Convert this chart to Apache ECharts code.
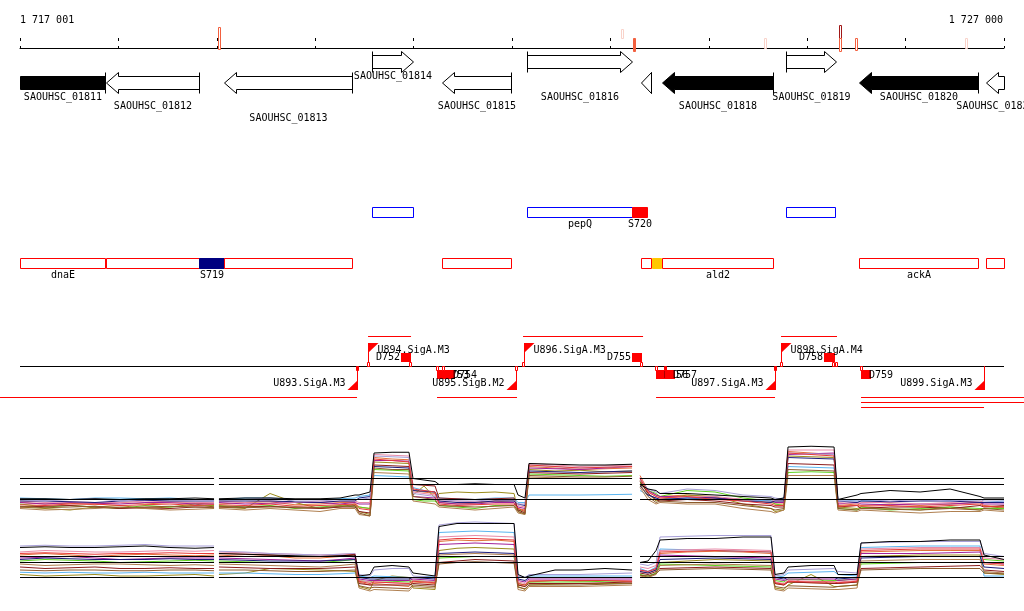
<!DOCTYPE html>
<html><head><meta charset="utf-8">
<script src="https://cdn.jsdelivr.net/npm/echarts@6/dist/echarts.min.js"></script>
<style>html,body{margin:0;padding:0;background:#fff;overflow:hidden}#c{width:1024px;height:611px}</style>
</head><body><div id="c"></div><script>
// ================= DATA =================
const viewStart = 1717000, viewEnd = 1727000, tickStep = 1000;
const rulerLabels = ['1 717 001', '1 727 000'];

// ruler markers (value bars on the coordinate line)
const mkPos   = [1719027, 1723118, 1723240, 1724571, 1725334, 1725334, 1725491, 1726614];
const mkUp    = [11, 9, 0, 0, 13, 0, 0, 0];
const mkDown  = [11, 0, 13, 10, 0, 13, 12, 10];
const mkLevel = [2, 1, 2, 1, 3, 2, 2, 1];
const mkSolid = [0, 0, 1, 0, 0, 0, 0, 0];

// genes
const geneNames = ['SAOUHSC_01811','SAOUHSC_01812','SAOUHSC_01813','SAOUHSC_01814','SAOUHSC_01815','SAOUHSC_01816','SAOUHSC_01817','SAOUHSC_01818','SAOUHSC_01819','SAOUHSC_01820','SAOUHSC_01821'];
const geneStart = [1716300, 1717874, 1719073, 1720577, 1721289, 1722153, 1723311, 1723525, 1724785, 1725527, 1726817];
const geneEnd   = [1717864, 1718819, 1720374, 1720994, 1721990, 1723220, 1723413, 1724653, 1725293, 1726736, 1727500];
const geneStrand = [-1, -1, -1, 1, -1, 1, -1, -1, 1, -1, -1];
const geneEssential = [1, 0, 0, 0, 0, 0, 0, 1, 0, 1, 0];

// annotated features (two lanes)
const featNames = ['', 'pepQ', 'S720', '', 'dnaE', '', 'S719', '', '', '', '', 'ald2', 'ackA', ''];
const featStart = [1720577, 1722153, 1723220, 1724785, 1716300, 1717874, 1718819, 1719073, 1721289, 1723311, 1723423, 1723525, 1725527, 1726817];
const featEnd   = [1720994, 1723220, 1723372, 1725283, 1717864, 1718819, 1719073, 1720374, 1721990, 1723413, 1723514, 1724653, 1726736, 1727500];
const featLane  = [0, 0, 0, 0, 1, 1, 1, 1, 1, 1, 1, 1, 1, 1];
const featKind  = [0, 0, 1, 0, 0, 0, 2, 0, 0, 0, 3, 0, 0, 0];

// transcription units
const opStart = [1720537, 1722112, 1724734, 1716797, 1721238, 1723464, 1725547, 1725547, 1725547];
const opEnd   = [1720974, 1723332, 1725303, 1720425, 1722051, 1724673, 1727240, 1727240, 1726797];
const opLane  = [0, 0, 0, 1, 1, 1, 1, 2, 3];

// promoters
const promNames  = ['U893.SigA.M3','U894.SigA.M3','U895.SigB.M2','U896.SigA.M3','U897.SigA.M3','U898.SigA.M4','U899.SigA.M3'];
const promPos    = [1720425, 1720537, 1722041, 1722122, 1724673, 1724734, 1726797];
const promStrand = [-1, 1, -1, 1, -1, 1, -1];

// terminators
const termNames  = ['D752','D753','D754','D755','D756','D757','D758','D759'];
const termStart  = [1720872, 1721238, 1721319, 1723220, 1723464, 1723555, 1725171, 1725547];
const termEnd    = [1720974, 1721339, 1721421, 1723321, 1723565, 1723657, 1725283, 1725649];
const termStrand = [1, -1, -1, 1, -1, -1, 1, -1];

// small site marks on the track line
const sitePos    = [1720425, 1720537, 1720964, 1721235, 1721299, 1722041, 1722112, 1723311, 1723464, 1723555, 1724673, 1724734, 1725263, 1725293, 1725547];
const siteStrand = [-1, 1, 1, -1, -1, -1, 1, 1, -1, -1, -1, 1, 1, 1, -1];
const siteSolid  = [1, 0, 0, 0, 0, 0, 0, 0, 0, 1, 1, 0, 0, 0, 0];

// expression profiles: sample positions (null rows = gaps) and values
const exprX = [1717000,1717254,1717508,1717762,1718016,1718270,1718524,1718779,1718972,1718992,
  1719022,1719287,1719541,1719795,1720049,1720252,1720405,1720445,1720557,1720598,1720781,1720953,
  1720994,1721106,1721218,1721258,1721441,1721624,1721827,1722021,1722061,1722132,1722173,1722437,
  1722691,1722945,1723220,1723260,1723301,1723382,1723464,1723504,1723779,1724063,1724348,1724632,
  1724673,1724764,1724805,1725039,1725273,1725313,1725507,1725547,1725842,1726147,1726452,1726756,
  1726797,1727000];
const exprSegments = [[1717000, 1718972], [1719022, 1723220], [1723301, 1727000]];
const thresholdLevels = [1.4, 1.0, 0.0];

// panel A (upper)
const expAref = [0.05,0.05,0.0,0.05,0.0,0.05,0.05,0.1,0.05,null,0.05,0.1,0.1,0.05,0.05,0.1,0.3,0.3,0.5,3.1,3.15,3.15,1.4,1.3,1.2,1.0,1.0,1.05,1.0,1.0,0.3,0.1,2.4,2.35,2.3,2.3,2.35,null,1.0,0.7,0.6,0.4,0.4,0.3,0.2,0.1,0.0,0.1,3.5,3.55,3.5,0.0,0.3,0.4,0.6,0.5,0.7,0.2,0.1,0.1];
const expA1 = [-0.2,-0.3,-0.25,-0.35,-0.2,-0.3,-0.2,-0.25,-0.3,null,-0.3,-0.2,-0.15,-0.35,-0.3,-0.2,-0.2,-0.5,-0.6,2.8,2.7,2.65,0.6,0.5,0.4,-0.2,-0.3,-0.25,-0.1,-0.2,-0.6,-0.7,2.2,2.1,2.0,2.05,2.1,null,1.6,0.6,0.3,0.2,0.3,0.1,0.0,-0.2,-0.3,-0.3,3.2,3.1,3.0,-0.4,-0.3,-0.4,-0.3,-0.4,-0.3,-0.2,-0.4,-0.5];
const expA2 = [-0.5,-0.6,-0.7,-0.5,-0.4,-0.6,-0.5,-0.3,-0.5,null,-0.5,-0.6,0.4,-0.2,-0.6,-0.5,-0.3,-0.8,-1.0,2.5,2.45,2.4,0.3,0.9,0.1,0.4,0.5,0.45,0.5,0.4,-0.8,-1.0,2.0,1.9,1.95,1.85,1.9,null,1.3,0.4,-0.1,0.0,0.3,0.2,-0.3,-0.6,-0.8,-0.7,2.9,2.85,2.8,-0.5,-0.6,-0.5,-0.6,-0.7,-0.5,-0.7,-0.6,-0.5];
const expA3 = [-0.3,-0.5,-0.4,-0.5,-0.6,-0.4,-0.5,-0.4,-0.4,null,-0.4,-0.5,-0.4,-0.6,-0.5,-0.4,-0.5,-0.5,-0.6,2.0,1.95,1.9,0.0,-0.1,-0.1,-0.4,-0.5,-0.6,-0.4,-0.4,-0.7,-0.8,1.7,1.65,1.6,1.55,1.6,null,1.1,0.6,0.4,0.2,0.6,0.5,0.1,-0.1,-0.3,-0.4,1.8,1.85,1.8,-0.6,-0.7,-0.5,-0.7,-0.6,-0.5,-0.6,-0.6,-0.6];
const expA4 = [-0.2,-0.3,-0.2,-0.25,-0.3,-0.2,-0.2,-0.3,-0.3,null,-0.2,-0.3,-0.25,-0.2,-0.2,-0.3,-0.2,-0.3,-0.3,2.6,2.6,2.55,0.2,0.15,0.1,-0.2,-0.3,-0.3,-0.2,-0.2,-0.5,-0.6,2.1,2.05,2.0,2.1,2.2,null,1.4,0.6,0.3,0.2,0.2,0.1,0.0,-0.1,-0.2,-0.2,3.0,3.05,3.1,-0.3,-0.2,-0.3,-0.35,-0.3,-0.3,-0.2,-0.3,-0.3];
const expA5 = [0.1,0.05,0.0,0.1,0.1,0.05,0.1,0.0,0.0,null,0.0,0.1,0.1,0.0,0.0,0.05,0.1,0.2,0.3,1.6,1.55,1.5,0.8,0.6,0.5,0.1,0.05,0.0,0.1,0.1,-0.2,-0.2,0.3,0.3,0.3,0.32,0.35,null,0.6,0.3,0.1,0.0,0.1,0.0,0.0,-0.1,0.0,0.1,2.2,2.15,2.1,0.0,-0.1,-0.1,0.0,0.0,-0.1,-0.1,-0.2,-0.1];
const expA6 = [-0.1,-0.2,-0.15,-0.2,-0.2,-0.1,-0.15,-0.2,-0.2,null,-0.1,-0.2,-0.1,-0.2,-0.1,-0.15,-0.1,-0.2,-0.2,3.0,2.95,2.9,0.5,0.4,0.3,-0.1,-0.1,-0.15,-0.1,-0.1,-0.4,-0.5,2.4,2.3,2.2,2.25,2.3,null,1.5,0.5,0.2,0.1,0.2,0.2,0.0,0.0,-0.1,-0.1,3.3,3.3,3.3,-0.2,-0.3,-0.2,-0.2,-0.3,-0.2,-0.1,-0.2,-0.2];
const expA7 = [-0.5,-0.45,-0.4,-0.5,-0.6,-0.55,-0.6,-0.5,-0.5,null,-0.5,-0.5,-0.45,-0.55,-0.6,-0.5,-0.5,-0.8,-0.9,2.3,2.25,2.2,1.0,0.95,0.9,0.1,0.05,0.0,0.05,0.1,-0.7,-0.9,1.8,1.75,1.7,1.75,1.8,null,1.2,0.4,0.0,-0.1,0.0,-0.1,-0.3,-0.4,-0.5,-0.5,2.4,2.35,2.3,-0.5,-0.4,-0.6,-0.5,-0.5,-0.6,-0.4,-0.5,-0.4];
const expA8 = [-0.1,-0.1,-0.15,-0.2,-0.1,-0.05,-0.1,-0.1,-0.1,null,-0.1,-0.1,-0.1,-0.15,-0.2,-0.1,-0.1,0.1,0.2,2.2,2.15,2.1,0.6,0.55,0.5,-0.1,-0.2,-0.2,-0.1,-0.1,-0.3,-0.4,1.9,1.85,1.8,1.85,1.9,null,0.9,0.3,0.1,0.0,0.1,0.1,-0.1,-0.2,-0.1,-0.1,2.8,2.75,2.7,-0.1,-0.2,-0.1,-0.15,-0.1,-0.1,-0.2,-0.2,-0.2];
const expA9 = [-0.6,-0.7,-0.65,-0.6,-0.5,-0.6,-0.7,-0.65,-0.6,null,-0.6,-0.7,-0.6,-0.7,-0.8,-0.6,-0.6,-1.0,-1.1,1.8,1.75,1.7,-0.1,-0.2,-0.3,-0.5,-0.6,-0.7,-0.6,-0.5,-0.9,-1.0,1.5,1.45,1.4,1.4,1.4,null,0.8,0.0,-0.3,-0.2,-0.3,-0.3,-0.6,-0.8,-0.9,-0.7,1.6,1.6,1.6,-0.7,-0.8,-0.7,-0.8,-0.9,-0.8,-0.8,-0.7,-0.8];
const expA10 = [0.0,-0.1,0.0,0.05,-0.1,0.0,0.0,-0.05,-0.1,null,0.0,0.0,0.1,-0.1,-0.1,0.0,0.0,0.0,0.1,2.9,2.85,2.8,0.4,0.3,0.2,0.0,-0.1,-0.1,0.0,0.0,-0.3,-0.3,2.3,2.2,2.1,2.15,2.2,null,1.3,0.7,0.5,0.4,0.7,0.6,0.3,0.2,0.1,0.0,3.1,3.05,3.0,-0.1,-0.1,0.0,-0.1,0.0,-0.1,0.0,-0.1,-0.1];
const expA11 = [-0.35,-0.4,-0.3,-0.3,-0.4,-0.35,-0.3,-0.4,-0.35,null,-0.35,-0.4,-0.3,-0.45,-0.4,-0.35,-0.3,-0.6,-0.7,2.7,2.6,2.5,0.7,0.6,0.5,-0.3,-0.4,-0.35,-0.3,-0.3,-0.6,-0.8,2.3,2.2,2.1,2.15,2.2,null,1.4,0.5,0.2,0.1,0.2,0.0,-0.1,-0.3,-0.4,-0.4,3.1,3.0,2.9,-0.45,-0.4,-0.45,-0.4,-0.5,-0.4,-0.3,-0.45,-0.5];
const expA12 = [-0.45,-0.55,-0.5,-0.45,-0.55,-0.5,-0.45,-0.5,-0.55,null,-0.45,-0.55,-0.5,-0.5,-0.55,-0.45,-0.4,-0.9,-1.1,2.1,2.0,2.0,0.2,0.1,0.0,-0.4,-0.45,-0.5,-0.45,-0.4,-0.8,-0.95,1.6,1.55,1.5,1.5,1.55,null,1.0,0.2,-0.2,-0.1,-0.2,-0.2,-0.4,-0.6,-0.7,-0.6,2.0,1.95,1.9,-0.6,-0.7,-0.6,-0.65,-0.7,-0.6,-0.7,-0.6,-0.7];

// panel B (lower)
const expBref = [2.0,2.05,2.0,2.0,2.05,2.1,2.0,1.95,2.0,null,1.6,1.55,1.5,1.45,1.4,1.45,1.5,0.1,0.2,0.7,0.8,0.7,0.3,0.2,0.1,3.4,3.6,3.6,3.6,3.6,0.2,0.0,0.1,0.5,0.5,0.6,0.5,null,1.0,1.1,1.8,2.5,2.6,2.6,2.7,2.7,0.2,0.3,0.7,0.8,0.8,0.2,0.2,2.3,2.4,2.4,2.5,2.5,1.5,1.2];
const expB1 = [1.5,1.6,1.5,1.4,1.5,1.55,1.5,1.45,1.5,null,1.5,1.4,1.45,1.3,1.3,1.4,1.5,-0.3,-0.5,-0.4,-0.5,-0.6,-0.3,-0.35,-0.4,2.4,2.5,2.45,2.5,2.4,-0.5,-0.6,-0.3,-0.2,-0.25,-0.2,-0.3,null,0.4,0.3,0.5,1.6,1.7,1.75,1.7,1.6,-0.4,-0.5,-0.3,-0.35,-0.4,-0.4,-0.3,1.7,1.75,1.8,1.8,1.8,0.9,0.8];
const expB2 = [0.2,0.1,0.15,0.2,0.1,0.1,0.15,0.2,0.1,null,0.2,0.3,0.6,0.55,0.5,0.45,0.4,-0.6,-0.8,-0.2,0.1,0.0,-0.7,-0.75,-0.8,1.8,1.95,2.0,1.95,1.9,-0.6,-0.8,-0.5,-0.45,-0.4,-0.4,-0.4,null,0.2,0.0,0.3,1.0,1.1,1.2,1.15,1.1,-0.7,-0.8,-0.5,0.2,-0.6,-0.6,-0.5,1.4,1.45,1.5,1.5,1.5,0.3,0.2];
const expB3 = [1.1,1.2,1.15,1.1,1.0,1.05,1.1,1.15,1.1,null,1.1,1.05,1.0,1.0,1.0,1.1,1.2,-0.2,-0.3,-0.2,-0.25,-0.3,-0.2,-0.25,-0.3,1.3,1.35,1.4,1.4,1.4,-0.4,-0.5,-0.3,-0.3,-0.3,-0.25,-0.2,null,0.2,0.1,0.3,0.9,0.85,0.8,0.75,0.7,-0.2,-0.3,-0.1,-0.15,-0.2,-0.2,-0.1,0.9,0.95,1.0,1.0,1.0,1.2,1.1];
const expB4 = [1.3,1.35,1.4,1.3,1.2,1.25,1.3,1.3,1.3,null,1.3,1.25,1.2,1.15,1.1,1.2,1.3,-0.1,-0.2,-0.2,-0.2,-0.2,-0.1,-0.15,-0.2,2.2,2.25,2.3,2.25,2.2,-0.2,-0.3,-0.1,-0.1,-0.1,-0.1,-0.1,null,0.5,0.4,0.6,1.5,1.45,1.4,1.35,1.3,-0.1,-0.2,-0.1,-0.1,-0.1,-0.2,-0.1,1.6,1.6,1.6,1.65,1.7,1.0,0.9];
const expB5 = [0.35,0.3,0.35,0.3,0.3,0.35,0.3,0.3,0.3,null,0.3,0.3,0.25,0.2,0.2,0.25,0.3,0.1,0.0,0.1,0.05,0.0,0.0,0.05,0.1,3.0,3.05,3.1,3.05,3.0,0.1,0.0,0.1,0.1,0.1,0.1,0.1,null,0.6,0.4,0.7,1.9,1.85,1.8,1.75,1.7,0.0,0.1,0.3,0.35,0.4,0.2,0.1,2.0,2.05,2.1,2.1,2.1,0.1,0.1];
const expB6 = [1.7,1.8,1.75,1.7,1.7,1.75,1.8,1.75,1.8,null,1.7,1.65,1.6,1.55,1.5,1.55,1.6,-0.2,-0.3,-0.3,-0.35,-0.4,-0.2,-0.25,-0.3,2.7,2.75,2.8,2.75,2.7,-0.3,-0.4,-0.2,-0.2,-0.2,-0.2,-0.2,null,0.7,0.6,0.8,1.8,1.85,1.9,1.85,1.8,-0.3,-0.4,-0.2,-0.25,-0.3,-0.3,-0.2,1.9,1.95,2.0,2.0,2.0,1.3,1.2];
const expB7 = [0.7,0.6,0.65,0.7,0.6,0.6,0.65,0.6,0.6,null,0.7,0.65,0.6,0.6,0.6,0.65,0.7,-0.4,-0.5,-0.5,-0.5,-0.5,-0.4,-0.45,-0.5,1.0,1.1,1.2,1.15,1.1,-0.5,-0.6,-0.4,-0.4,-0.4,-0.35,-0.3,null,0.3,0.2,0.4,0.6,0.65,0.7,0.65,0.6,-0.4,-0.5,-0.3,-0.35,-0.4,-0.4,-0.3,0.6,0.65,0.7,0.75,0.8,0.5,0.4];
const expB8 = [1.2,1.3,1.25,1.2,1.2,1.2,1.25,1.2,1.2,null,1.2,1.15,1.1,1.1,1.1,1.15,1.2,0.0,-0.1,-0.1,-0.1,-0.1,0.0,-0.05,-0.1,1.6,1.65,1.7,1.65,1.6,-0.1,-0.2,0.0,0.0,0.0,0.0,0.0,null,0.4,0.3,0.5,1.2,1.25,1.3,1.25,1.2,0.0,-0.1,0.0,0.0,0.0,-0.1,0.0,1.3,1.35,1.4,1.4,1.4,0.7,0.6];
const expB9 = [0.9,0.8,0.85,0.9,0.9,0.85,0.8,0.85,0.8,null,0.9,0.85,0.8,0.75,0.7,0.8,0.9,-0.7,-0.9,-0.8,-0.85,-0.9,-0.6,-0.65,-0.7,1.5,1.55,1.6,1.55,1.5,-0.8,-0.9,-0.6,-0.6,-0.6,-0.55,-0.5,null,0.1,0.0,0.2,0.8,0.85,0.9,0.85,0.8,-0.8,-0.9,-0.7,-0.75,-0.8,-0.8,-0.7,1.1,1.15,1.2,1.2,1.2,0.4,0.3];
const expB10 = [2.1,2.15,2.1,2.1,2.15,2.2,2.1,2.1,2.1,null,1.75,1.7,1.6,1.55,1.5,1.55,1.6,0.2,0.1,0.5,0.6,0.6,0.1,0.05,0.0,3.5,3.65,3.7,3.65,3.6,0.1,0.0,0.2,0.2,0.2,0.25,0.3,null,0.9,0.8,1.0,2.7,2.75,2.8,2.8,2.8,0.1,0.2,0.5,0.55,0.6,0.4,0.3,2.3,2.35,2.4,2.4,2.4,1.6,1.4];
const expB11 = [1.6,1.65,1.6,1.55,1.6,1.6,1.65,1.6,1.6,null,1.6,1.55,1.5,1.4,1.4,1.45,1.55,-0.25,-0.4,-0.3,-0.35,-0.4,-0.25,-0.3,-0.35,2.5,2.6,2.6,2.55,2.5,-0.4,-0.5,-0.25,-0.2,-0.2,-0.2,-0.25,null,0.5,0.4,0.6,1.7,1.75,1.8,1.75,1.7,-0.35,-0.45,-0.25,-0.3,-0.3,-0.35,-0.25,1.8,1.85,1.9,1.9,1.9,1.0,0.9];
const expB12 = [0.5,0.45,0.5,0.5,0.45,0.45,0.5,0.5,0.45,null,0.5,0.5,0.45,0.4,0.4,0.45,0.5,-0.55,-0.7,-0.65,-0.7,-0.75,-0.5,-0.55,-0.6,0.9,1.0,1.05,1.0,0.95,-0.65,-0.75,-0.5,-0.5,-0.5,-0.45,-0.4,null,0.15,0.1,0.25,0.5,0.55,0.6,0.55,0.5,-0.6,-0.7,-0.55,-0.6,-0.65,-0.6,-0.5,0.5,0.55,0.6,0.6,0.6,0.3,0.25];

// ================= LAYOUT / STYLE =================
const FONT = '10px "DejaVu Sans Mono"';
const geneLabelRow = [97, 106, 118, 76, 106, 97, null, 106, 97, 97, 106];
const GENE_ROW = { 1: {bt: 55, bb: 68, ht: 51, hb: 72}, '-1': {bt: 76, bb: 89, ht: 72, hb: 93} };
const HEAD = 12;
const FEAT_LANE = [{top: 207, bot: 217, label: 224, stroke: '#0000ff'}, {top: 258, bot: 268, label: 275, stroke: '#ff0000'}];
const FEAT_FILL = {1: '#ff0000', 2: '#000080', 3: '#ffc800'};
const MK_COLOR = {1: '#f9d3ca', 2: '#f2603f', 3: '#a01818'};
const RULER_Y = 38;
const TRACK_Y = 366;
const OP_LANE_Y = [336, 397, 402, 407];
const RED = '#ff0000';
const seriesColors = ['#e2703a','#9b8c1c','#5fd21e','#a0209a','#5bb5f0','#e88aa8','#8b1c1c','#1c1c7a','#b08050','#a8a0d8','#e83a3a','#8b5a2b'];

const clampX = v => Math.max(viewStart, Math.min(viewEnd, v));
const crisp = v => Math.round(v) + 0.5;

function mkText(x, y, text, align) {
  return {type: 'text', x: x, y: y, style: {text: text, fill: '#000', font: FONT, align: align, verticalAlign: 'middle'}};
}

// ---------- render functions ----------
function renderGene(params, api) {
  const i = api.value(2);
  const s = geneStart[i], e = geneEnd[i], fwd = geneStrand[i] > 0;
  const R = GENE_ROW[geneStrand[i]];
  const X = v => crisp(api.coord([clampX(v), 0])[0]);
  const Y = v => api.coord([viewStart, v])[1] + 0.5;
  const xs = X(s), xe = X(e);
  const bt = Y(R.bt), bb = Y(R.bb), ht = Y(R.ht), hb = Y(R.hb), ym = (ht + hb) / 2;
  const headVis = fwd ? e <= viewEnd : s >= viewStart;
  const tailVis = fwd ? s >= viewStart : e <= viewEnd;
  const H = Math.min(HEAD, xe - xs);
  let pts;
  if (fwd) {
    if (headVis) { const xh = xe - H; pts = [[xs,bt],[xh,bt],[xh,ht],[xe,ym],[xh,hb],[xh,bb],[xs,bb]]; }
    else pts = [[xs,bt],[xe,bt],[xe,bb],[xs,bb]];
  } else {
    if (headVis) { const xh = xs + H; pts = [[xe,bt],[xh,bt],[xh,ht],[xs,ym],[xh,hb],[xh,bb],[xe,bb]]; }
    else pts = [[xe,bt],[xs,bt],[xs,bb],[xe,bb]];
  }
  const ch = [{type: 'polygon', shape: {points: pts}, style: {fill: geneEssential[i] ? '#000' : '#fff', stroke: '#000', lineWidth: 1}}];
  if (tailVis) {
    const xt = fwd ? xs : xe;
    ch.push({type: 'line', shape: {x1: xt, y1: ht, x2: xt, y2: hb}, style: {stroke: '#000', lineWidth: 1}});
  }
  if (geneLabelRow[i] != null) ch.push(mkText((xs + xe) / 2, geneLabelRow[i], geneNames[i], 'center'));
  return {type: 'group', children: ch};
}

function renderMarker(params, api) {
  const i = api.value(1);
  const x = Math.round(api.coord([mkPos[i], 0])[0]);
  const c = MK_COLOR[mkLevel[i]];
  const y0 = RULER_Y - mkUp[i], y1 = RULER_Y + mkDown[i];
  return {type: 'rect', shape: {x: x - 1 + 0.5, y: y0 + 0.5, width: 2, height: y1 - y0}, style: {fill: mkSolid[i] ? c : '#fff', stroke: c, lineWidth: 1}};
}

function renderRulerLabel(params, api) {
  const i = api.value(1);
  const x = api.coord([api.value(0), 0])[0];
  return mkText(i === 0 ? x : x - 1, 20, rulerLabels[i], i === 0 ? 'left' : 'right');
}

function renderFeature(params, api) {
  const i = api.value(2);
  const L = FEAT_LANE[featLane[i]];
  const xs = crisp(api.coord([clampX(featStart[i]), 0])[0]);
  const xe = crisp(api.coord([clampX(featEnd[i]), 0])[0]);
  const k = featKind[i];
  const ch = [{type: 'rect', shape: {x: xs, y: L.top + 0.5, width: xe - xs, height: L.bot - L.top},
    style: k ? {fill: FEAT_FILL[k], stroke: FEAT_FILL[k], lineWidth: 1} : {fill: '#fff', stroke: L.stroke, lineWidth: 1}}];
  if (featNames[i]) ch.push(mkText((xs + xe) / 2, L.label, featNames[i], 'center'));
  return {type: 'group', children: ch};
}

function renderOperon(params, api) {
  const i = api.value(2);
  const xs = api.coord([opStart[i], 0])[0], xe = api.coord([opEnd[i], 0])[0];
  const y = OP_LANE_Y[opLane[i]] + 0.5;
  return {type: 'line', shape: {x1: xs, y1: y, x2: xe, y2: y}, style: {stroke: RED, lineWidth: 1}};
}

function renderTrackLine(params, api) {
  const xs = api.coord([api.value(0), 0])[0], xe = api.coord([api.value(1), 0])[0];
  return {type: 'line', shape: {x1: xs, y1: TRACK_Y + 0.5, x2: xe, y2: TRACK_Y + 0.5}, style: {stroke: '#000', lineWidth: 1}};
}

function renderPromoter(params, api) {
  const i = api.value(1);
  const x = crisp(api.coord([promPos[i], 0])[0]);
  const ch = [];
  if (promStrand[i] > 0) {
    ch.push({type: 'line', shape: {x1: x, y1: TRACK_Y, x2: x, y2: 343}, style: {stroke: RED, lineWidth: 1}});
    ch.push({type: 'polygon', shape: {points: [[x - 0.5, 343], [x + 10, 343], [x - 0.5, 353]]}, style: {fill: RED}});
    ch.push(mkText(x + 9, 350, promNames[i], 'left'));
  } else {
    ch.push({type: 'line', shape: {x1: x, y1: TRACK_Y, x2: x, y2: 390}, style: {stroke: RED, lineWidth: 1}});
    ch.push({type: 'polygon', shape: {points: [[x + 0.5, 380], [x + 0.5, 390], [x - 10, 390]]}, style: {fill: RED}});
    ch.push(mkText(x - 12, 383.5, promNames[i], 'right'));
  }
  return {type: 'group', children: ch};
}

function renderTerm(params, api) {
  const i = api.value(2);
  const xs = Math.round(api.coord([termStart[i], 0])[0]);
  const xe = Math.round(api.coord([termEnd[i], 0])[0]);
  const up = termStrand[i] > 0;
  const y0 = up ? 353 : 370, y1 = up ? 362 : 379;
  return {type: 'group', children: [
    {type: 'rect', shape: {x: xs, y: y0, width: xe - xs, height: y1 - y0}, style: {fill: RED}},
    up ? mkText(xs - 1, 357.5, termNames[i], 'right') : mkText(xe - 2, 375, termNames[i], 'left')
  ]};
}

function renderSite(params, api) {
  const i = api.value(1);
  const x = Math.round(api.coord([sitePos[i], 0])[0]);
  const up = siteStrand[i] > 0;
  const y = up ? 362 : 366;
  return {type: 'rect', shape: {x: x - 1 + 0.5, y: y + 0.5, width: 2, height: 4}, style: {fill: siteSolid[i] ? RED : '#fff', stroke: RED, lineWidth: 1}};
}

// ---------- build series ----------
const idx = arr => arr.map((v, i) => [v, i]);
const custom = (render, data, z, enc) => ({type: 'custom', xAxisIndex: 0, yAxisIndex: 0, renderItem: render, data: data, z: z, silent: true, animation: false, encode: enc || {x: 0, y: -1}});

const series = [
  custom(renderTrackLine, [[viewStart, viewEnd, 0]], 2, {x: [0, 1]}),
  custom(renderOperon, opStart.map((s, i) => [s, opEnd[i], i]), 3, {x: [0, 1]}),
  custom(renderGene, geneStart.map((s, i) => [s, geneEnd[i], i]), 3, {x: [0, 1]}),
  custom(renderFeature, featStart.map((s, i) => [s, featEnd[i], i]), 3, {x: [0, 1]}),
  custom(renderTerm, termStart.map((s, i) => [s, termEnd[i], i]), 4, {x: [0, 1]}),
  custom(renderPromoter, idx(promPos), 5),
  custom(renderSite, idx(sitePos), 6),
  custom(renderMarker, idx(mkPos), 10),
  custom(renderRulerLabel, [[viewStart, 0], [viewEnd, 1]], 10)
];

function lineSeries(vals, color, xi, yi, z) {
  return {type: 'line', xAxisIndex: xi, yAxisIndex: yi, data: exprX.map((x, i) => [x, vals[i]]),
    showSymbol: false, symbol: 'none', connectNulls: false, silent: true, animation: false, z: z,
    lineStyle: {width: 1, color: color}};
}
function thresholdData(level) {
  const d = [];
  exprSegments.forEach((seg, k) => { if (k) d.push([seg[0] - 1, null]); d.push([seg[0], level], [seg[1], level]); });
  return d;
}
const panelA = [expA1, expA2, expA3, expA4, expA5, expA6, expA7, expA8, expA9, expA10, expA11, expA12];
const panelB = [expB1, expB2, expB3, expB4, expB5, expB6, expB7, expB8, expB9, expB10, expB11, expB12];
[[panelA, expAref, 3, 2], [panelB, expBref, 4, 3]].forEach(([panel, ref, xi, yi]) => {
  panel.forEach((vals, k) => series.push(lineSeries(vals, seriesColors[k], xi, yi, 2)));
  series.push(lineSeries(ref, '#000', xi, yi, 3));
  thresholdLevels.forEach(lv => series.push({type: 'line', xAxisIndex: xi, yAxisIndex: yi, data: thresholdData(lv),
    showSymbol: false, symbol: 'none', connectNulls: false, silent: true, animation: false, z: 4,
    lineStyle: {width: 1, color: '#000'}}));
});

const hiddenX = g => ({gridIndex: g, type: 'value', min: viewStart, max: viewEnd, show: false});
const option = {
  animation: false,
  backgroundColor: '#fff',
  grid: [
    {left: 20, right: 20, top: 0, height: 611},
    {left: 20, right: 20, top: RULER_Y, height: 10},
    {left: 20, right: 20, top: 439.5, height: 90},
    {left: 20, right: 20, top: 517.5, height: 90}
  ],
  xAxis: [
    hiddenX(0),
    {gridIndex: 1, type: 'value', min: viewStart, max: viewEnd, interval: tickStep, position: 'top',
      axisLine: {show: true, lineStyle: {color: '#000', width: 1}},
      axisTick: {show: true, length: 2, lineStyle: {color: '#000'}}, axisLabel: {show: false}, splitLine: {show: false}},
    {gridIndex: 1, type: 'value', min: viewStart, max: viewEnd, interval: tickStep, position: 'top',
      axisLine: {show: false}, axisTick: {show: true, inside: true, length: 3, lineStyle: {color: '#000'}},
      axisLabel: {show: false}, splitLine: {show: false}},
    hiddenX(2),
    hiddenX(3)
  ],
  yAxis: [
    {gridIndex: 0, type: 'value', min: 0, max: 611, inverse: true, show: false},
    {gridIndex: 1, type: 'value', min: 0, max: 1, show: false},
    {gridIndex: 2, type: 'value', min: -2, max: 4, show: false},
    {gridIndex: 3, type: 'value', min: -2, max: 4, show: false}
  ],
  series: series
};
const chart = echarts.init(document.getElementById('c'), null, {renderer: 'canvas'});
chart.setOption(option);
</script></body></html>
